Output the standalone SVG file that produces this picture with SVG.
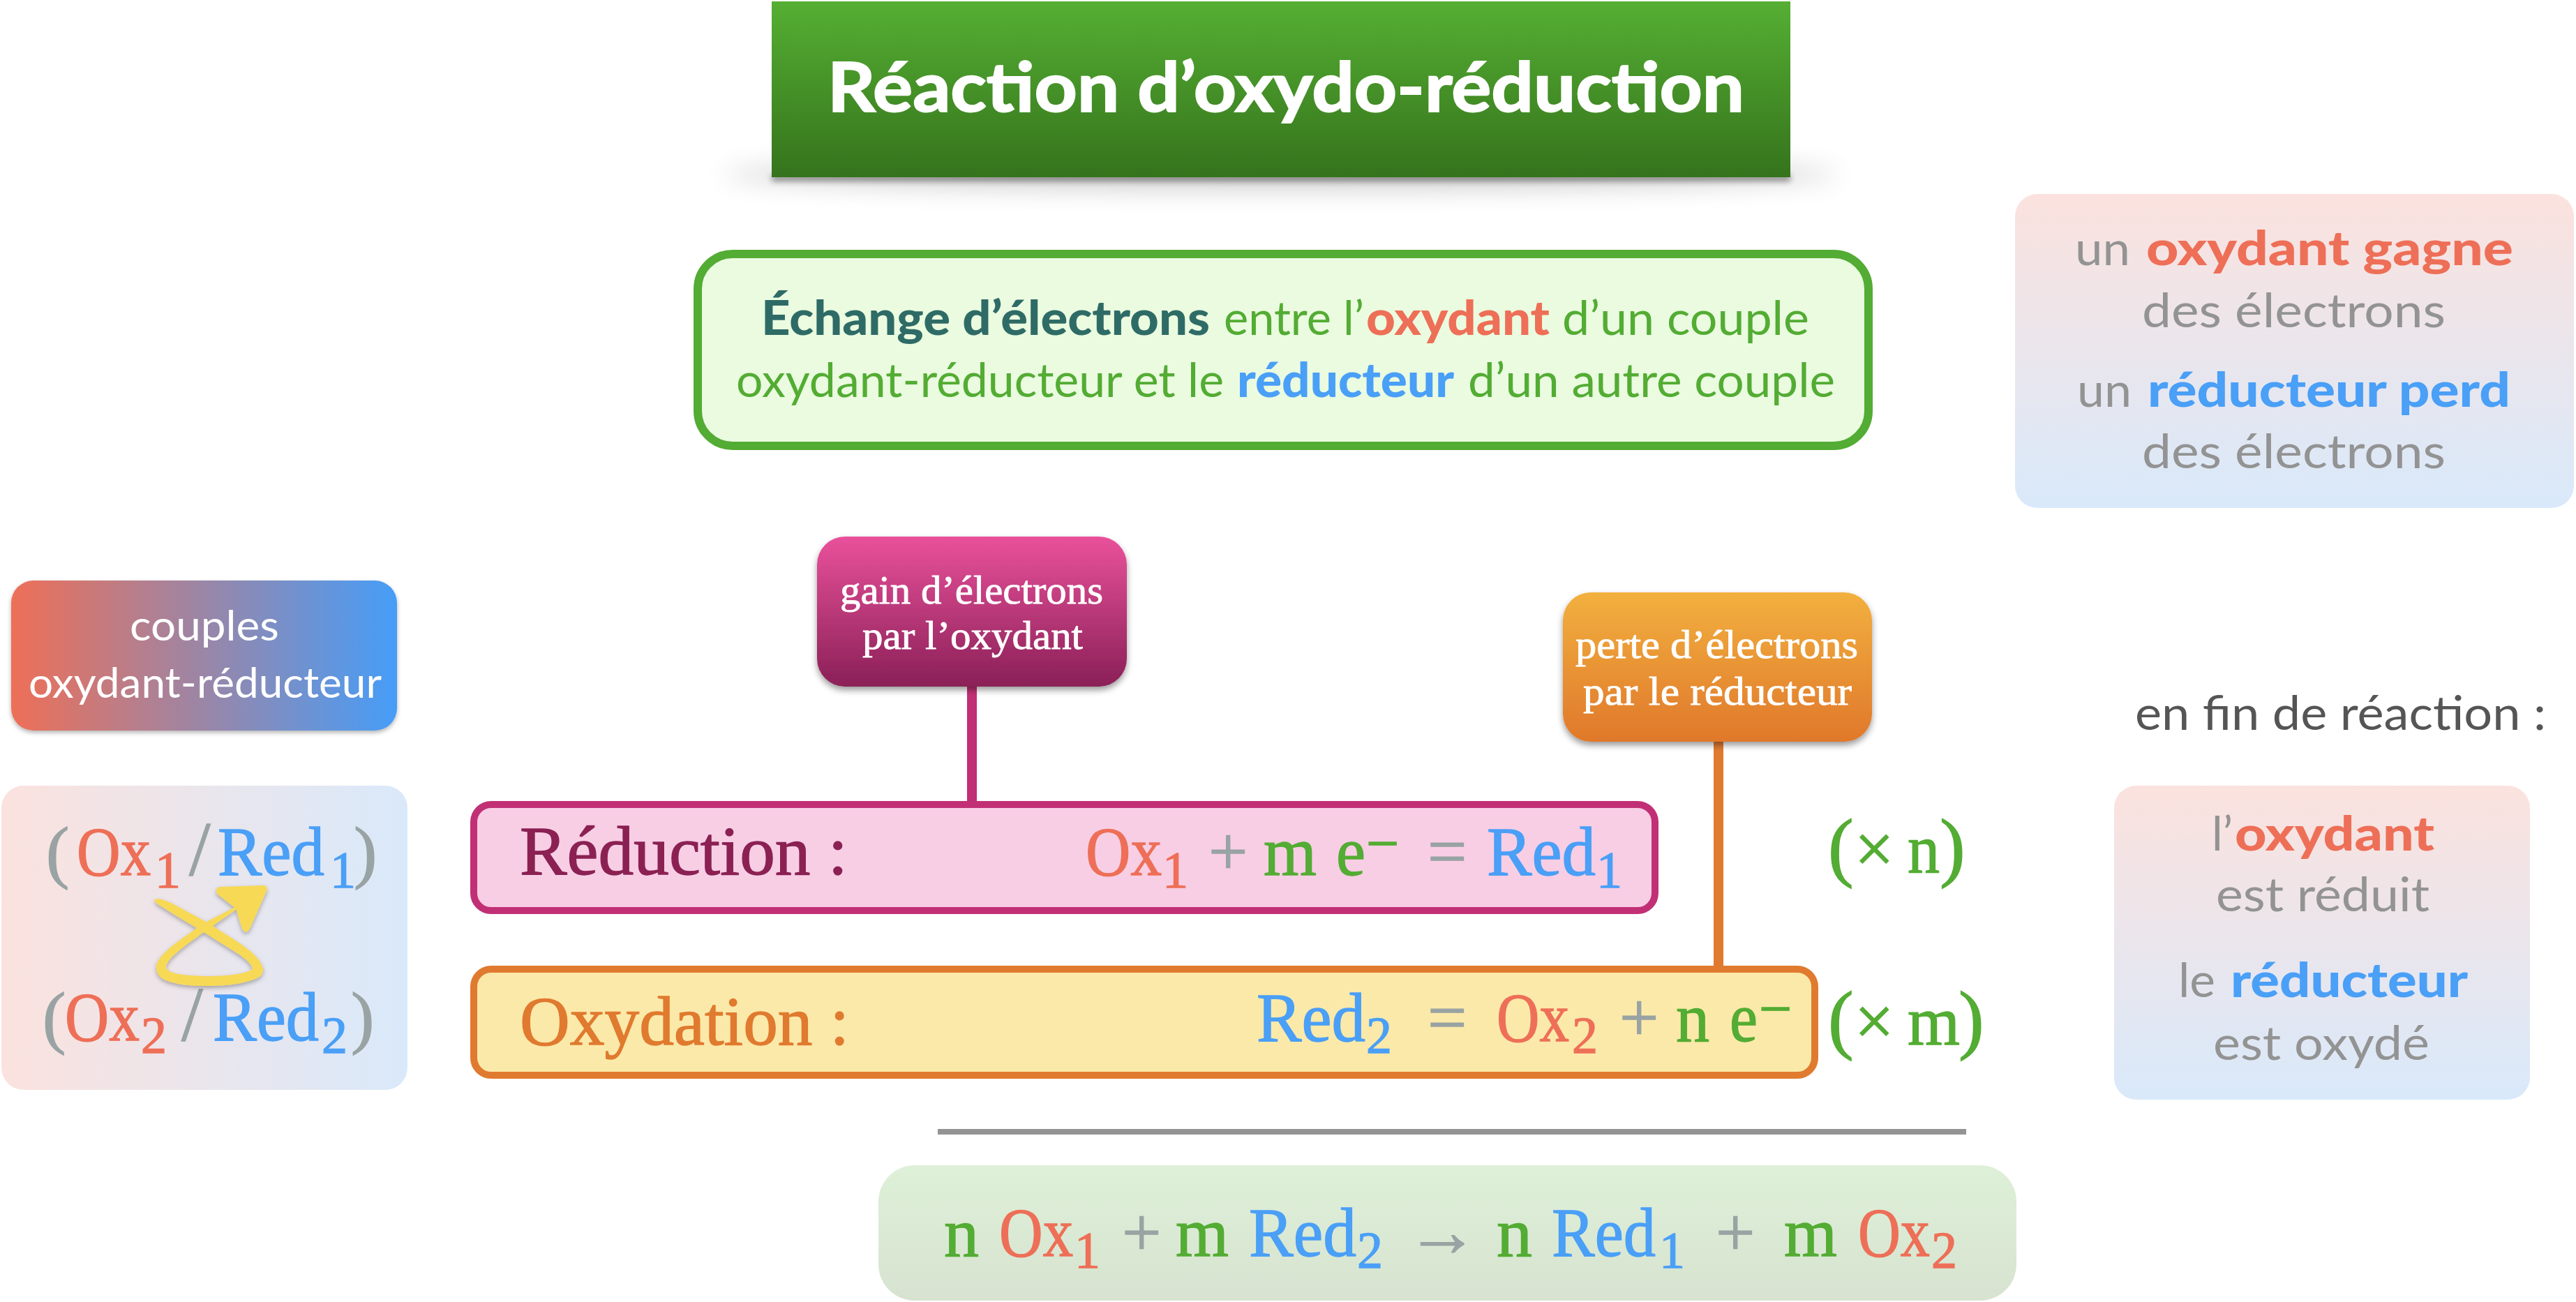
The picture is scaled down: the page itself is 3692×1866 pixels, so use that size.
<svg xmlns="http://www.w3.org/2000/svg" width="3692" height="1866" viewBox="0 0 3692 1866">
<style>
text{font-family:"Lato","Noto Sans",sans-serif;}
.s{font-family:"Liberation Serif","DejaVu Serif",serif;font-size:100px;stroke-width:1.3;}
.lab{font-family:"Liberation Serif","DejaVu Serif",serif;font-size:56px;fill:#fff;stroke:#fff;stroke-width:.8;}
.sb{font-size:74px;}
.big{font-size:68px;}
.b{font-weight:900;}
.r{fill:#EE6F57;}.u{fill:#4A9FF7;}.g{fill:#53AC33;}.y{fill:#99A3A3;}.gy{fill:#939393;}.t{fill:#2F6B66;}
.s .r{stroke:#EE6F57;}.s .u{stroke:#4A9FF7;}.s .g,.s.g{stroke:#53AC33;}.s .y{stroke:#99A3A3;}
</style>
<defs>
<linearGradient id="gT" x1="0" y1="0" x2="0" y2="1"><stop offset="0" stop-color="#55AF33"/><stop offset="1" stop-color="#35731C"/></linearGradient>
<linearGradient id="gC" x1="0" y1="0" x2="1" y2="0"><stop offset="0" stop-color="#EE6F57"/><stop offset="1" stop-color="#469DF8"/></linearGradient>
<linearGradient id="gL" x1="0" y1="0" x2="1" y2="0"><stop offset="0" stop-color="#FBE2DE"/><stop offset="1" stop-color="#D9E9FA"/></linearGradient>
<linearGradient id="gV" x1="0" y1="0" x2="0" y2="1"><stop offset="0" stop-color="#FBE2DE"/><stop offset="1" stop-color="#D9E9FA"/></linearGradient>
<linearGradient id="gP" x1="0" y1="0" x2="0" y2="1"><stop offset="0" stop-color="#E9519B"/><stop offset="1" stop-color="#8A2057"/></linearGradient>
<linearGradient id="gO" x1="0" y1="0" x2="0" y2="1"><stop offset="0" stop-color="#F2B03F"/><stop offset="1" stop-color="#E0782B"/></linearGradient>
<linearGradient id="gB" x1="0" y1="0" x2="0" y2="1"><stop offset="0" stop-color="#DEF0D8"/><stop offset="1" stop-color="#D7E3D0"/></linearGradient>
<filter id="ds" x="-10%" y="-10%" width="120%" height="125%"><feDropShadow dx="0" dy="5" stdDeviation="5" flood-color="#000" flood-opacity=".4"/></filter>
<filter id="dy" x="-20%" y="-20%" width="140%" height="140%"><feDropShadow dx="0" dy="3" stdDeviation="3" flood-color="#000" flood-opacity=".3"/></filter>
<filter id="bl" x="-10%" y="-400%" width="120%" height="900%"><feGaussianBlur stdDeviation="18"/></filter>
<filter id="bs" x="-5%" y="-300%" width="110%" height="700%"><feGaussianBlur stdDeviation="4"/></filter>
</defs>
<rect width="3692" height="1866" fill="#fff"/>

<g id="connectors">
<rect x="1386" y="980" width="14" height="172" fill="#C13075"/>
<rect x="2456" y="1060" width="14" height="327" fill="#E07A2F"/>
<rect x="1344" y="1618" width="1474" height="8" fill="#939393"/>
</g>

<g id="title">
<ellipse cx="1836" cy="250" rx="800" ry="20" fill="#000" opacity=".2" filter="url(#bl)"/>
<rect x="1106" y="250" width="1460" height="10" fill="#000" opacity=".4" filter="url(#bs)"/>
<rect x="1106" y="2" width="1460" height="252" fill="url(#gT)"/>
<text x="1186" y="160" font-size="98" font-weight="700" fill="#fff" stroke="#fff" stroke-width="2" textLength="1314" lengthAdjust="spacingAndGlyphs">Réaction d’oxydo-réduction</text>
</g>

<g id="definition">
<rect x="1000" y="364" width="1678" height="275" rx="50" fill="#EAFBE0" stroke="#53AC33" stroke-width="12"/>
<text y="480" class="big g"><tspan x="1091" class="b t" textLength="643" lengthAdjust="spacingAndGlyphs">Échange d’électrons</tspan><tspan x="1754" textLength="201" lengthAdjust="spacingAndGlyphs">entre l’</tspan><tspan x="1958" class="b r" textLength="263" lengthAdjust="spacingAndGlyphs">oxydant</tspan><tspan x="2239" textLength="354" lengthAdjust="spacingAndGlyphs">d’un couple</tspan></text>
<text y="569" class="big g"><tspan x="1055" textLength="699" lengthAdjust="spacingAndGlyphs">oxydant-réducteur et le</tspan><tspan x="1773" class="b u" textLength="311" lengthAdjust="spacingAndGlyphs">réducteur</tspan><tspan x="2104" textLength="526" lengthAdjust="spacingAndGlyphs">d’un autre couple</tspan></text>
</g>

<g id="rule-box">
<rect x="2888" y="278" width="801" height="450" rx="32" fill="url(#gV)"/>
<text y="380" class="big gy"><tspan x="2974" textLength="79" lengthAdjust="spacingAndGlyphs">un</tspan><tspan x="3076" class="b r" textLength="526" lengthAdjust="spacingAndGlyphs">oxydant gagne</tspan></text>
<text x="3070" y="469" class="big gy" textLength="435" lengthAdjust="spacingAndGlyphs">des électrons</text>
<text y="583" class="big gy"><tspan x="2977" textLength="78" lengthAdjust="spacingAndGlyphs">un</tspan><tspan x="3078" class="b u" textLength="520" lengthAdjust="spacingAndGlyphs">réducteur perd</tspan></text>
<text x="3070" y="671" class="big gy" textLength="435" lengthAdjust="spacingAndGlyphs">des électrons</text>
</g>

<g id="fin-label">
<text x="3060" y="1046" class="big" fill="#555" textLength="589" lengthAdjust="spacingAndGlyphs">en fin de réaction :</text>
</g>

<g id="fin-box">
<rect x="3030" y="1126" width="596" height="450" rx="32" fill="url(#gV)"/>
<text y="1219" class="big gy"><tspan x="3170" textLength="30" lengthAdjust="spacingAndGlyphs">l’</tspan><tspan x="3203" class="b r" textLength="286" lengthAdjust="spacingAndGlyphs">oxydant</tspan></text>
<text x="3176" y="1306" class="big gy" textLength="306" lengthAdjust="spacingAndGlyphs">est réduit</text>
<text y="1429" class="big gy"><tspan x="3122" textLength="53" lengthAdjust="spacingAndGlyphs">le</tspan><tspan x="3197" class="b u" textLength="340" lengthAdjust="spacingAndGlyphs">réducteur</tspan></text>
<text x="3172" y="1519" class="big gy" textLength="310" lengthAdjust="spacingAndGlyphs">est oxydé</text>
</g>

<g id="couples-label">
<rect x="16" y="832" width="553" height="215" rx="32" fill="url(#gC)" filter="url(#dy)"/>
<text x="186" y="918" font-size="60" fill="#fff" textLength="214" lengthAdjust="spacingAndGlyphs">couples</text>
<text x="41" y="1000" font-size="60" fill="#fff" textLength="506" lengthAdjust="spacingAndGlyphs">oxydant-réducteur</text>
</g>

<g id="couples-box">
<rect x="2" y="1126" width="582" height="436" rx="32" fill="url(#gL)"/>
<text y="1254" class="s"><tspan x="66" class="y">(</tspan><tspan x="110" class="r" textLength="106" lengthAdjust="spacingAndGlyphs">Ox</tspan><tspan x="222" y="1272" class="r sb">1</tspan><tspan x="271" y="1254" class="y" font-size="110">/</tspan><tspan x="312" class="u" textLength="153" lengthAdjust="spacingAndGlyphs">Red</tspan><tspan x="473" y="1272" class="u sb">1</tspan><tspan x="507" y="1254" class="y">)</tspan></text>
<text y="1491" class="s"><tspan x="61" class="y">(</tspan><tspan x="93" class="r" textLength="107" lengthAdjust="spacingAndGlyphs">Ox</tspan><tspan x="202" y="1509" class="r sb">2</tspan><tspan x="260" y="1491" class="y" font-size="110">/</tspan><tspan x="305" class="u" textLength="152" lengthAdjust="spacingAndGlyphs">Red</tspan><tspan x="461" y="1509" class="u sb">2</tspan><tspan x="503" y="1491" class="y">)</tspan></text>
<g filter="url(#dy)" fill="#F7D954">
<path d="M221 1291 C222 1286 233 1288 245 1294 L297 1322 L333 1345 C350 1356 372 1370 377 1388 C378 1398 370 1402 360 1405 C340 1412 315 1413 293 1413 C270 1413 245 1410 232 1402 C222 1395 222 1382 228 1375 C240 1358 262 1345 282 1330 L300 1319 L337 1300 L339 1303 L305 1327 L292 1336 C270 1352 240 1372 238 1385 C238 1392 245 1393 255 1396 C280 1400 320 1400 340 1396 C350 1394 362 1392 362 1387 C358 1378 345 1369 335 1363 L292 1336 L282 1330 L250 1311 L225 1295 Z"/>
<path d="M310 1277 C310 1272 313 1271 317 1271 L377 1269 C382 1269 384 1273 382 1277 L358 1331 C355 1337 350 1337 347 1331 L338 1302 L311 1281 Z"/>
</g>
</g>

<g id="gain-label">
<rect x="1171" y="769" width="444" height="215" rx="40" fill="url(#gP)" filter="url(#ds)"/>
<text x="1204" y="865" class="lab" textLength="377" lengthAdjust="spacingAndGlyphs">gain d’électrons</text>
<text x="1236" y="930" class="lab" textLength="316" lengthAdjust="spacingAndGlyphs">par l’oxydant</text>
</g>

<g id="perte-label">
<rect x="2240" y="849" width="443" height="214" rx="40" fill="url(#gO)" filter="url(#ds)"/>
<text x="2258" y="943" class="lab" textLength="405" lengthAdjust="spacingAndGlyphs">perte d’électrons</text>
<text x="2269" y="1010" class="lab" textLength="385" lengthAdjust="spacingAndGlyphs">par le réducteur</text>
</g>

<g id="reduction">
<rect x="679" y="1153" width="1693" height="152" rx="25" fill="#F8CEE5" stroke="#C13075" stroke-width="10"/>
<text x="745" y="1253" class="s" fill="#8B2053" stroke="#8B2053" textLength="470" lengthAdjust="spacingAndGlyphs">Réduction :</text>
<text y="1254" class="s"><tspan x="1556" class="r" textLength="109" lengthAdjust="spacingAndGlyphs">Ox</tspan><tspan x="1666" y="1272" class="r sb">1</tspan><tspan x="1732" y="1254" class="y">+</tspan><tspan x="1811" class="g" textLength="76" lengthAdjust="spacingAndGlyphs">m</tspan><tspan x="1915" class="g" textLength="42" lengthAdjust="spacingAndGlyphs">e</tspan><tspan x="1958" y="1237" class="g" font-size="84">−</tspan><tspan x="2046" y="1254" class="y">=</tspan><tspan x="2131" class="u" textLength="156" lengthAdjust="spacingAndGlyphs">Red</tspan><tspan x="2288" y="1272" class="u sb">1</tspan></text>
</g>

<g id="oxydation">
<rect x="679" y="1389" width="1922" height="152" rx="25" fill="#FBE9A9" stroke="#E07A2F" stroke-width="10"/>
<text x="745" y="1497" class="s" fill="#E07A2F" stroke="#E07A2F" textLength="472" lengthAdjust="spacingAndGlyphs">Oxydation :</text>
<text y="1492" class="s"><tspan x="1801" class="u" textLength="156" lengthAdjust="spacingAndGlyphs">Red</tspan><tspan x="1958" y="1509" class="u sb">2</tspan><tspan x="2046" y="1492" class="y">=</tspan><tspan x="2145" class="r" textLength="104" lengthAdjust="spacingAndGlyphs">Ox</tspan><tspan x="2253" y="1509" class="r sb">2</tspan><tspan x="2321" y="1492" class="y">+</tspan><tspan x="2402" class="g" textLength="48" lengthAdjust="spacingAndGlyphs">n</tspan><tspan x="2479" class="g" textLength="40" lengthAdjust="spacingAndGlyphs">e</tspan><tspan x="2521" y="1474" class="g" font-size="84">−</tspan></text>
</g>

<g id="factor-n">
<text y="1250" class="s g"><tspan x="2620" font-size="110">(</tspan><tspan x="2658">×</tspan><tspan x="2734" textLength="46" lengthAdjust="spacingAndGlyphs">n</tspan><tspan x="2780" font-size="110">)</tspan></text>
</g>
<g id="factor-m">
<text y="1497" class="s g"><tspan x="2620" font-size="110">(</tspan><tspan x="2658">×</tspan><tspan x="2734" textLength="75" lengthAdjust="spacingAndGlyphs">m</tspan><tspan x="2807" font-size="110">)</tspan></text>
</g>

<g id="global-equation">
<rect x="1259" y="1670" width="1631" height="194" rx="52" fill="url(#gB)"/>
<text y="1800" class="s"><tspan x="1353" class="g" textLength="50" lengthAdjust="spacingAndGlyphs">n</tspan><tspan x="1432" class="r" textLength="106" lengthAdjust="spacingAndGlyphs">Ox</tspan><tspan x="1540" y="1817" class="r sb">1</tspan><tspan x="1608" y="1800" class="y">+</tspan><tspan x="1685" class="g" textLength="76" lengthAdjust="spacingAndGlyphs">m</tspan><tspan x="1790" class="u" textLength="154" lengthAdjust="spacingAndGlyphs">Red</tspan><tspan x="1945" y="1817" class="u sb">2</tspan><tspan x="2015" y="1800" class="y" font-size="104">→</tspan><tspan x="2145" class="g" textLength="51" lengthAdjust="spacingAndGlyphs">n</tspan><tspan x="2224" class="u" textLength="149" lengthAdjust="spacingAndGlyphs">Red</tspan><tspan x="2378" y="1817" class="u sb">1</tspan><tspan x="2459" y="1800" class="y">+</tspan><tspan x="2557" class="g" textLength="76" lengthAdjust="spacingAndGlyphs">m</tspan><tspan x="2663" class="r" textLength="103" lengthAdjust="spacingAndGlyphs">Ox</tspan><tspan x="2768" y="1817" class="r sb">2</tspan></text>
</g>
</svg>
